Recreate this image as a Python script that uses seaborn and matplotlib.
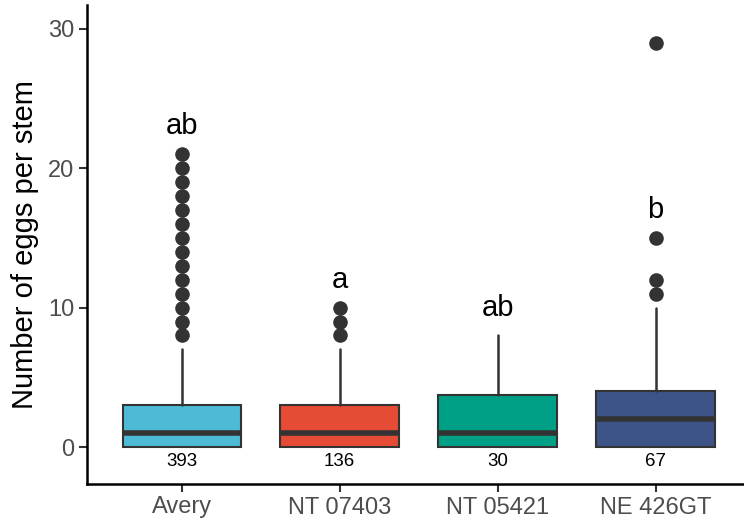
import matplotlib
matplotlib.use("Agg")
import matplotlib.pyplot as plt
import pandas as pd
import seaborn as sns

# Box summaries per line (eggs per stem)
lines = ["Avery", "NT 07403", "NT 05421", "NE 426GT"]
q1 = [0, 0, 0, 0]
median = [1, 1, 1, 2]
q3 = [3, 3, 3.75, 4]
whisker_low = [0, 0, 0, 0]
whisker_high = [7, 7, 8, 10]
outliers = [
    [8, 9, 10, 11, 12, 13, 14, 15, 16, 17, 18, 19, 20, 21],
    [8, 9, 10],
    [],
    [11, 12, 15, 29],
]
n_stems = [393, 136, 30, 67]
letters = ["ab", "a", "ab", "b"]
letter_y = [23, 12, 10, 17]
colors = ["#4DBBD5", "#E64B35", "#00A087", "#3C5488"]

sns.set_theme(style="ticks")
plt.rcParams["font.family"] = ["Liberation Sans", "DejaVu Sans"]

fig = plt.figure(figsize=(7.44, 5.21), dpi=100)
ax = fig.add_axes([87 / 744, 1 - 484 / 521, (744 - 87) / 744, (484 - 5) / 521])

edge = "#333333"
stats = [
    dict(label=lab, q1=a, med=m, q3=b, whislo=lo, whishi=hi, fliers=[])
    for lab, a, m, b, lo, hi in zip(lines, q1, median, q3, whisker_low, whisker_high)
]
bp = ax.bxp(
    stats, positions=range(len(lines)), widths=0.75, patch_artist=True,
    showfliers=False, showcaps=False,
    boxprops=dict(edgecolor=edge, linewidth=1.5),
    medianprops=dict(color=edge, linewidth=4, solid_capstyle="butt"),
    whiskerprops=dict(color=edge, linewidth=1.8),
    zorder=2,
)
for patch, c in zip(bp["boxes"], colors):
    patch.set_facecolor(c)

# Outlying stems
out_df = pd.DataFrame(
    [(lab, v) for lab, vals in zip(lines, outliers) for v in vals],
    columns=["line", "eggs"],
)
sns.stripplot(
    data=out_df, x="line", y="eggs", order=lines, jitter=False,
    color=edge, size=10.5, linewidth=0, ax=ax, zorder=3,
)

for i, (n, let, ly) in enumerate(zip(n_stems, letters, letter_y)):
    ax.text(i, -1.05, str(n), ha="center", va="center", fontsize=13.5, color="black")
    ax.text(i, ly, let, ha="center", va="center", fontsize=21, color="black")

ax.set_xlim(-0.6, 3.56)
ax.set_ylim(-2.65, 31.7)
ax.set_xticks(range(len(lines)))
ax.set_xticklabels(lines)
ax.set_yticks([0, 10, 20, 30])
ax.set_xlabel("")
ax.set_ylabel("Number of eggs per stem", fontsize=21, color="black", labelpad=7)
ax.tick_params(axis="both", labelsize=17, labelcolor="#4D4D4D",
               color="#333333", length=6, width=1.5, pad=3)
for side in ["top", "right"]:
    ax.spines[side].set_visible(False)
for side in ["left", "bottom"]:
    ax.spines[side].set_color("black")
    ax.spines[side].set_linewidth(1.8)

fig.savefig("out.png", dpi=100)
